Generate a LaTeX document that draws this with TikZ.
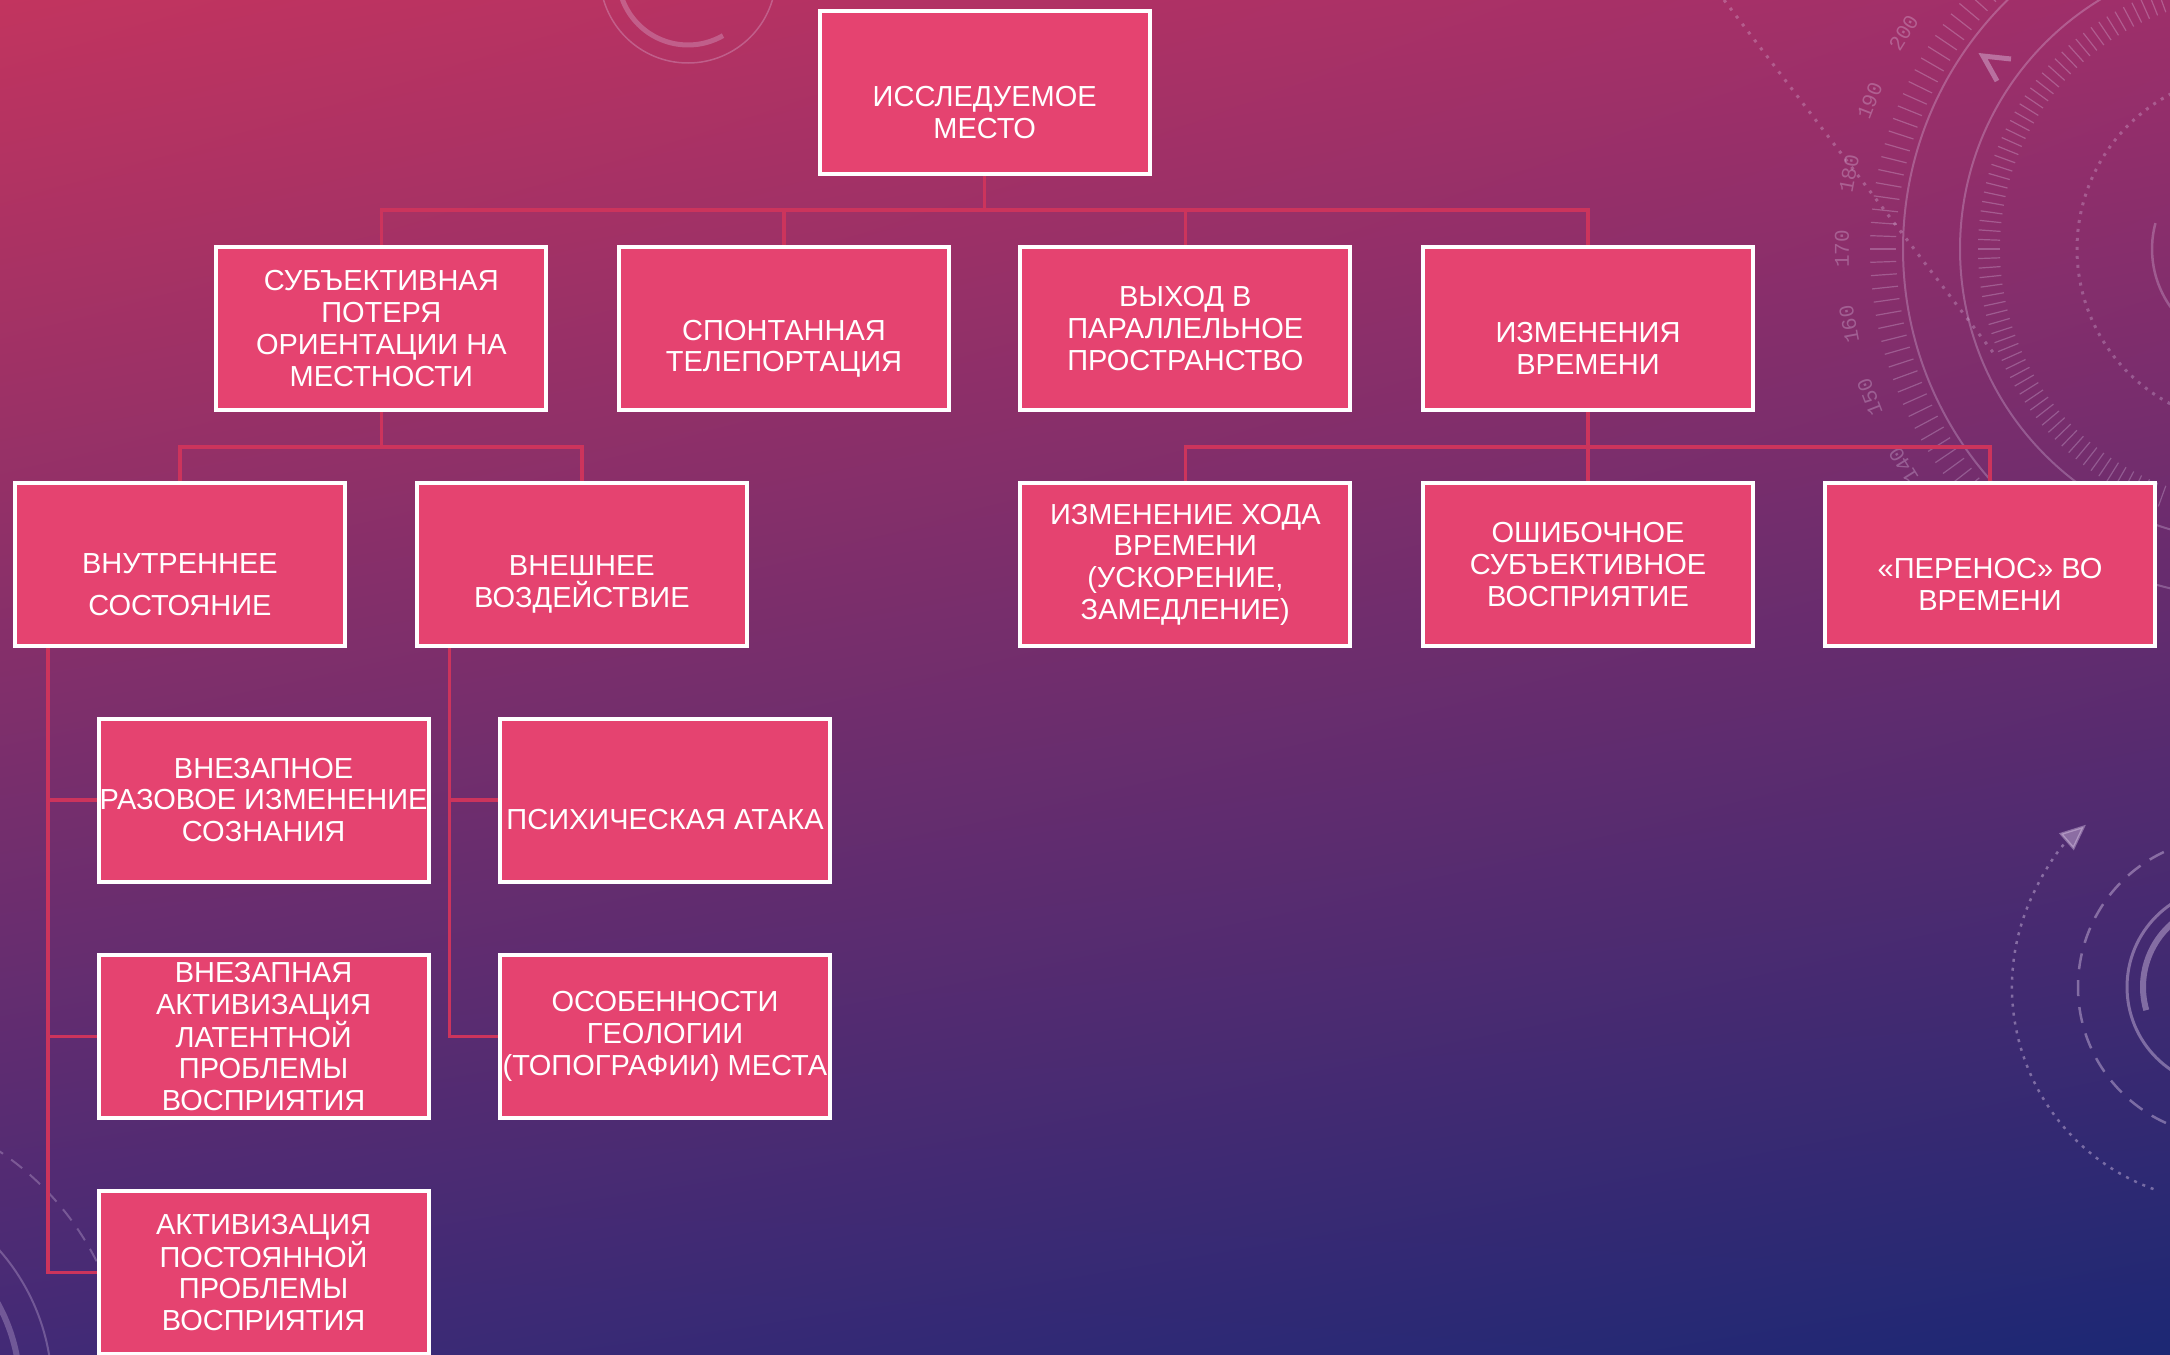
\documentclass[tikz,border=0pt]{standalone}
\usepackage{fontspec}
\setmainfont{Liberation Sans}
\newfontfamily\dialfont{Liberation Mono}
\usetikzlibrary{positioning,arrows.meta,backgrounds,shadings}

\definecolor{bgul}{RGB}{194,52,95}
\definecolor{bgur}{RGB}{158,47,106}
\definecolor{bgll}{RGB}{66,42,118}
\definecolor{bglr}{RGB}{28,40,116}
\definecolor{boxpink}{RGB}{229,67,112}
\definecolor{linkred}{RGB}{204,52,92}
\definecolor{orncol}{RGB}{230,210,240}

\tikzset{
  box/.style={draw=white, line width=4pt, fill=boxpink,
    minimum width=330pt, minimum height=163pt, inner sep=0pt},
  txt/.style={text=white, font=\fontsize{29}{31.8}\selectfont,
    align=center, inner sep=0pt},
  link/.style={draw=linkred, line width=3.5pt},
  orn/.style={draw=orncol, opacity=0.28, line width=2pt},
  dial/.style={text=orncol, text opacity=0.3,
    font=\dialfont\fontsize{21}{21}\selectfont, inner sep=0pt},
}

\begin{document}
\begin{tikzpicture}[x=1pt,y=-1pt]
  \useasboundingbox (0,0) rectangle (2170,1354);

  % boxes, top two rows
  \node[box] (root) at (984.7,92.7) {};
  \node[box] (subj) at (381.3,328.7) {};
  \node[box] (tele) at (784,328.7) {};
  \node[box] (para) at (1185.3,328.7) {};
  \node[box] (time) at (1588,328.7) {};
  % second level
  \node[box] (inner) at (179.9,564.6) {};
  \node[box] (outer) at (581.9,564.6) {};
  \node[box] (pace) at (1185.3,564.6) {};
  \node[box] (error) at (1588,564.6) {};
  \node[box] (jump) at (1990,564.6) {};
  % third level
  \node[box] (sudden) at (263.6,800) {};
  \node[box] (attack) at (665,800) {};
  \node[box] (latent) at (263.6,1036.5) {};
  \node[box] (geo) at (665,1036.5) {};
  \node[box] (constant) at (263.6,1272.5) {};

  % texts
  \node[txt] (rootT) at ([yshift=-20pt]root.center) {ИССЛЕДУЕМОЕ\\МЕСТО};
  \node[txt] (subjT) at (subj.center) {СУБЪЕКТИВНАЯ\\ПОТЕРЯ\\ОРИЕНТАЦИИ НА\\МЕСТНОСТИ};
  \node[txt] (teleT) at ([yshift=-20pt]tele.center) {СПОНТАННАЯ\\ТЕЛЕПОРТАЦИЯ};
  \node[txt] (paraT) at (para.center) {ВЫХОД В\\ПАРАЛЛЕЛЬНОЕ\\ПРОСТРАНСТВО};
  \node[txt] (timeT) at ([yshift=-20pt]time.center) {ИЗМЕНЕНИЯ\\ВРЕМЕНИ};
  \node[txt] (innerT) at ([yshift=-20pt]inner.center) {ВНУТРЕННЕЕ\\[10pt]СОСТОЯНИЕ};
  \node[txt] (outerT) at ([yshift=-20pt]outer.center) {ВНЕШНЕЕ\\ВОЗДЕЙСТВИЕ};
  \node[txt] (paceT) at (pace.center) {ИЗМЕНЕНИЕ ХОДА\\ВРЕМЕНИ\\(УСКОРЕНИЕ,\\ЗАМЕДЛЕНИЕ)};
  \node[txt] (errorT) at (error.center) {ОШИБОЧНОЕ\\СУБЪЕКТИВНОЕ\\ВОСПРИЯТИЕ};
  \node[txt] (jumpT) at ([yshift=-20pt]jump.center) {«ПЕРЕНОС» ВО\\ВРЕМЕНИ};
  \node[txt] (suddenT) at (sudden.center) {ВНЕЗАПНОЕ\\РАЗОВОЕ ИЗМЕНЕНИЕ\\СОЗНАНИЯ};
  \node[txt] (attackT) at ([yshift=-20pt]attack.center) {ПСИХИЧЕСКАЯ АТАКА};
  \node[txt] (latentT) at (latent.center) {ВНЕЗАПНАЯ\\АКТИВИЗАЦИЯ\\ЛАТЕНТНОЙ\\ПРОБЛЕМЫ\\ВОСПРИЯТИЯ};
  \node[txt] (geoT) at (geo.center) {ОСОБЕННОСТИ\\ГЕОЛОГИИ\\(ТОПОГРАФИИ) МЕСТА};
  \node[txt] (constantT) at (constant.center) {АКТИВИЗАЦИЯ\\ПОСТОЯННОЙ\\ПРОБЛЕМЫ\\ВОСПРИЯТИЯ};

  \begin{pgfonlayer}{background}
    \shade[upper left=bgul, upper right=bgur, lower left=bgll, lower right=bglr]
      (0,0) rectangle (2170,1354);

    % ornaments
    \coordinate (halo) at (688,-25);
    \draw[orn, line width=1.5pt] (halo) circle[radius=88];
    \draw[orn, line width=5pt] (halo) ++(60:70) arc[start angle=60, end angle=160, radius=70];

    \coordinate (dialC) at (2252,249);
    \draw[orn] (dialC) circle[radius=349];
    \draw[orn] (dialC) circle[radius=292];
    \draw[orn, line width=3pt, dash pattern=on 3pt off 6pt] (dialC) circle[radius=175];
    \draw[orn, line width=2.5pt] (dialC) ++(144:100) arc[start angle=144, end angle=195, radius=100];
    \draw[orn, opacity=0.4, line width=5pt] (2011,59) -- (1983,56) -- (1997,81);
    \foreach \a in {116,118,...,244}
      \draw[orn, line width=1.2pt] (dialC) ++(\a:356) -- ++(\a:26);
    \foreach \a in {110,112,...,250}
      \draw[orn, line width=1.2pt] (dialC) ++(\a:252) -- ++(\a:22);
    \foreach \v in {140,150,...,200}
      \path (dialC) ++({180+(\v-170)*1.06}:410)
        node[dial, rotate={-(270+(\v-170)*1.06)}] (d\v) {\v};
    \draw[orn, line width=3pt, dash pattern=on 3pt off 7pt] (1724,0) -- (1995,355);

    \coordinate (ring) at (2227,987);
    \draw[orn, opacity=0.4, line width=2.5pt, dash pattern=on 3pt off 6pt,
      -{Triangle[length=26pt,width=22pt]}]
      (ring) ++(110:215) arc[start angle=110, end angle=229, radius=215];
    \draw[orn, opacity=0.4, line width=2.5pt, dash pattern=on 16pt off 11pt] (ring) circle[radius=149];
    \draw[orn, opacity=0.4, line width=3pt] (ring) circle[radius=100];
    \draw[orn, opacity=0.4, line width=6pt] (ring) ++(164:84) arc[start angle=164, end angle=290, radius=84];

    \coordinate (corner) at (-160,1390);
    \draw[orn, dash pattern=on 14pt off 10pt] (corner) circle[radius=287];
    \draw[orn] (corner) circle[radius=212];
    \draw[orn, line width=6pt] (corner) circle[radius=180];

    % connectors
    \coordinate (busA) at (984.7,210);
    \draw[link] (root.south) -- (busA);
    \foreach \n in {subj,tele,para,time}
      \draw[link] (busA) -| (\n.north);
    \coordinate (busB) at (381.3,447);
    \draw[link] (subj.south) -- (busB);
    \foreach \n in {inner,outer}
      \draw[link] (busB) -| (\n.north);
    \coordinate (busC) at (1588,447);
    \draw[link] (time.south) -- (busC);
    \foreach \n in {pace,error,jump}
      \draw[link] (busC) -| (\n.north);
    \coordinate (railL) at (48,0);
    \foreach \n in {sudden,latent,constant}
      \draw[link] (inner.south -| railL) |- (\n.west);
    \coordinate (railR) at (449.5,0);
    \foreach \n in {attack,geo}
      \draw[link] (outer.south -| railR) |- (\n.west);
  \end{pgfonlayer}
\end{tikzpicture}
\end{document}
